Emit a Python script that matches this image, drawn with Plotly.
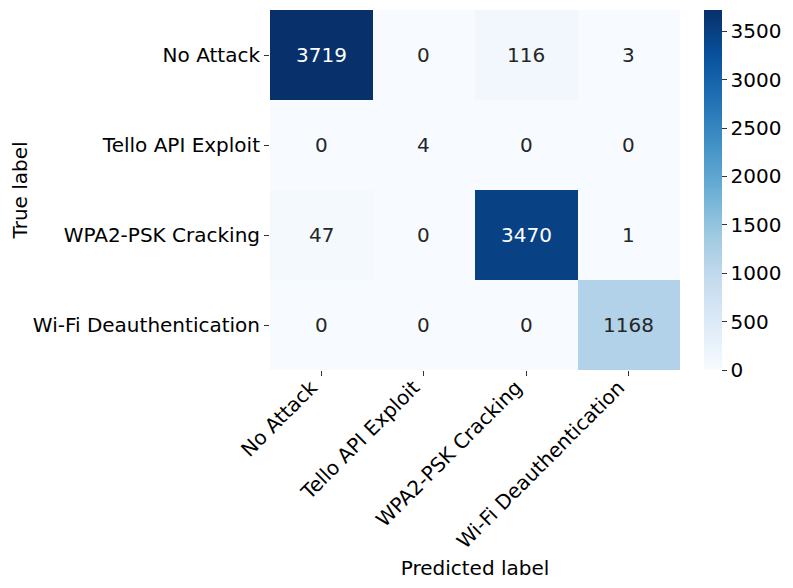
import plotly.graph_objects as go

pred_labels = ["No Attack", "Tello API Exploit", "WPA2-PSK Cracking", "Wi-Fi Deauthentication"]
true_labels = ["No Attack", "Tello API Exploit", "WPA2-PSK Cracking", "Wi-Fi Deauthentication"]
counts = [
    [3719, 0, 116, 3],
    [0, 4, 0, 0],
    [47, 0, 3470, 1],
    [0, 0, 0, 1168],
]
cbar_ticks = [0, 500, 1000, 1500, 2000, 2500, 3000, 3500]

FONT = "DejaVu Sans"
FS = 20
zmax = max(max(r) for r in counts)

blues = [
    [0.0, "#f7fbff"], [0.125, "#deebf7"], [0.25, "#c6dbef"], [0.375, "#9ecae1"],
    [0.5, "#6baed6"], [0.625, "#4292c6"], [0.75, "#2171b5"], [0.875, "#08519c"],
    [1.0, "#08306b"],
]

fig = go.Figure(go.Heatmap(
    z=counts, x=pred_labels, y=true_labels,
    colorscale=blues, zmin=0, zmax=zmax,
    hoverinfo="skip",
    colorbar=dict(
        x=1.0585, xanchor="left", y=0.5, yanchor="middle",
        len=1.0, lenmode="fraction", thickness=18, thicknessmode="pixels",
        outlinewidth=0, tickvals=cbar_ticks, ticks="outside", ticklen=5,
        tickcolor="#333", tickfont=dict(family=FONT, size=FS, color="black"),
        xpad=0, ypad=0,
    ),
))

annotations = []
for i, row in enumerate(counts):
    for j, v in enumerate(row):
        annotations.append(dict(
            x=pred_labels[j], y=true_labels[i], text=str(v), showarrow=False,
            font=dict(family=FONT, size=FS, color="white" if v / zmax > 0.6 else "#262626"),
        ))

fig.update_layout(
    width=785, height=580,
    margin=dict(l=262, r=113, t=2, b=218),
    paper_bgcolor="white", plot_bgcolor="white",
    annotations=annotations,
    xaxis=dict(
        title=dict(text="Predicted label", font=dict(family=FONT, size=FS, color="black"), standoff=8),
        tickangle=-45, ticks="outside", ticklen=5, tickcolor="#333",
        ticklabelstandoff=-8, ticklabelshift=-10,
        tickfont=dict(family=FONT, size=FS, color="black"), showgrid=False, zeroline=False,
    ),
    yaxis=dict(
        title=dict(text="True label", font=dict(family=FONT, size=FS, color="black"), standoff=6),
        autorange="reversed", ticks="outside", ticklen=5, tickcolor="#333",
        tickfont=dict(family=FONT, size=FS, color="black"), showgrid=False, zeroline=False,
    ),
)

fig.write_html("out.html")
